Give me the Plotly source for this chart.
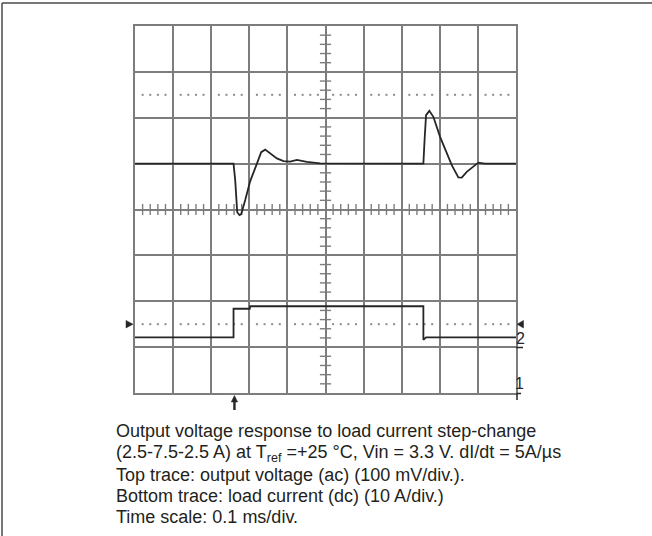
import plotly.graph_objects as go

# ---- oscilloscope data -------------------------------------------------
# time axis: 0.1 ms/div, 10 divisions
time_ms_v = [0.0, 0.2586, 0.263, 0.2683, 0.2743, 0.2788, 0.2893, 0.3024, 0.32,
             0.3312, 0.3417, 0.3548, 0.3724, 0.3897, 0.4073, 0.4249, 0.4511,
             0.486, 0.7569, 0.760, 0.7639, 0.7726, 0.7831, 0.8007, 0.8183,
             0.8314, 0.8487, 0.8576, 0.8707, 0.888, 0.9011, 0.9187, 1.0]
# output voltage deviation (ac coupled), mV
vout_mv = [0, 0, -36, -106, -112, -110, -79.5, -38, 0,
           25, 30.5, 22.9, 11.3, 5.4, 4.4, 8.1, 3.9,
           0.4, 0, 51, 105.7, 115, 102, 58.4, 22.2,
           -3.3, -30, -30.5, -17.9, -5.4, 2.2, 0, 0]

time_ms_i = [0.0, 0.2586, 0.2586, 0.3011, 0.3024, 0.7569, 0.7569, 0.760, 0.764, 1.0]
# load current, A
iload_a = [2.5, 2.5, 7.1, 7.1, 7.5, 7.5, 2.13, 2.37, 2.5, 2.5]

trigger_ms = 0.261

caption_lines = [
    "Output voltage response to load current step-change",
    "(2.5-7.5-2.5 A) at T<sub>ref</sub> =+25 °C, Vin = 3.3 V. dI/dt = 5A/µs",
    "Top trace: output voltage (ac) (100 mV/div.).",
    "Bottom trace: load current (dc) (10 A/div.)",
    "Time scale: 0.1 ms/div.",
]

# ---- screen / graticule settings ---------------------------------------
T_DIV = 0.1          # ms per division
V_DIV = 100          # mV per division
X_RANGE = [0, 1.0]
Y_RANGE = [-500, 300]
Y2_RANGE = [-6.41, 52.45]   # current channel position/gain on screen
CENTER_X = 0.5
CENTER_Y = -100
DOT_ROWS = [150, -350]
CH2_REF = -350

GRID = "#7d7d7d"
INK = "#262626"
TEXT = "#231f20"

# plot-area geometry in pixels (used to place marks outside the screen)
L, T, W, H = 135, 26, 381, 367


def px_x(px):
    return (px - L) / W


def px_y(py):
    return (T + H - py) / H


fig = go.Figure()

# centre-line minor ticks and dotted reference rows
minor_x = [round(i * T_DIV / 5, 4) for i in range(51) if i % 5]
minor_y = [Y_RANGE[0] + i * V_DIV / 5 for i in range(41) if i % 5]
fig.add_trace(go.Scatter(x=[CENTER_X] * len(minor_y), y=minor_y, mode="markers",
                         marker=dict(symbol="line-ew", size=8,
                                     line=dict(color=GRID, width=1.4)),
                         hoverinfo="skip", showlegend=False))
fig.add_trace(go.Scatter(x=minor_x, y=[CENTER_Y] * len(minor_x), mode="markers",
                         marker=dict(symbol="line-ns", size=8,
                                     line=dict(color=GRID, width=1.4)),
                         hoverinfo="skip", showlegend=False))
for row in DOT_ROWS:
    fig.add_trace(go.Scatter(x=minor_x, y=[row] * len(minor_x), mode="markers",
                             marker=dict(symbol="square", size=2, color="#8a8a8a"),
                             hoverinfo="skip", showlegend=False))

# traces
fig.add_trace(go.Scatter(x=time_ms_v, y=vout_mv, mode="lines",
                         line=dict(color=INK, width=1.8),
                         hoverinfo="skip", showlegend=False))
fig.add_trace(go.Scatter(x=time_ms_i, y=iload_a, mode="lines", yaxis="y2",
                         line=dict(color=INK, width=1.8),
                         hoverinfo="skip", showlegend=False))

axis_common = dict(showticklabels=False, ticks="", zeroline=False,
                   showgrid=True, gridcolor=GRID, gridwidth=1.5,
                   showline=True, linecolor=GRID, linewidth=1.6, mirror=True,
                   fixedrange=True)

fig.update_layout(
    width=652, height=536,
    margin=dict(l=L, r=652 - L - W, t=T, b=536 - T - H),
    paper_bgcolor="white", plot_bgcolor="white",
    xaxis=dict(range=X_RANGE, dtick=T_DIV, tick0=0, **axis_common),
    yaxis=dict(range=Y_RANGE, dtick=V_DIV, tick0=Y_RANGE[0], **axis_common),
    yaxis2=dict(range=Y2_RANGE, overlaying="y", visible=False, fixedrange=True),
    font=dict(family="Liberation Sans, Arial, sans-serif", color=TEXT),
    showlegend=False,
)

# channel-2 reference markers on both screen edges
half = 3.8 * V_DIV / 46
fig.add_shape(type="path", xref="paper", yref="y",
              path=f"M {px_x(126)} {CH2_REF + half} L {px_x(133)} {CH2_REF} "
                   f"L {px_x(126)} {CH2_REF - half} Z",
              fillcolor=INK, line=dict(color=INK, width=0.5))
fig.add_shape(type="path", xref="paper", yref="y",
              path=f"M {px_x(523.5)} {CH2_REF + half} L {px_x(517)} {CH2_REF} "
                   f"L {px_x(523.5)} {CH2_REF - half} Z",
              fillcolor=INK, line=dict(color=INK, width=0.5))

# channel labels
label_font = dict(size=16, color=INK,
                  family="Liberation Sans Narrow, Liberation Sans, Arial")
fig.add_annotation(text="2", xref="paper", yref="paper", x=px_x(520), y=px_y(338),
                   xanchor="center", yanchor="middle", showarrow=False,
                   font=label_font)
fig.add_annotation(text="1", xref="paper", yref="paper", x=px_x(519.5), y=px_y(383),
                   xanchor="center", yanchor="middle", showarrow=False,
                   font=label_font)
fig.add_shape(type="line", xref="paper", yref="paper", x0=px_x(516), x1=px_x(523),
              y0=px_y(347.5), y1=px_y(347.5), line=dict(color=INK, width=1.5))
fig.add_shape(type="path", xref="paper", yref="paper",
              path=f"M {px_x(517)} {px_y(400)} L {px_x(517)} {px_y(393.5)} "
                   f"L {px_x(521)} {px_y(393.5)}",
              line=dict(color=INK, width=1.5))

# trigger position arrow
hw = 3.2 * T_DIV / 38.1
fig.add_shape(type="line", xref="x", yref="paper", x0=trigger_ms, x1=trigger_ms,
              y0=px_y(401), y1=px_y(410), line=dict(color=INK, width=2.4))
fig.add_shape(type="path", xref="x", yref="paper",
              path=f"M {trigger_ms - hw} {px_y(402)} L {trigger_ms} {px_y(395.5)} "
                   f"L {trigger_ms + hw} {px_y(402)} Z",
              fillcolor=INK, line=dict(color=INK, width=0.5))

# frame of the figure panel (left and top rules)
fig.add_shape(type="line", xref="paper", yref="paper", x0=px_x(2), x1=px_x(660),
              y0=px_y(3), y1=px_y(3), line=dict(color="#4a4a4a", width=1.5))
fig.add_shape(type="line", xref="paper", yref="paper", x0=px_x(2), x1=px_x(2),
              y0=px_y(3), y1=px_y(545), line=dict(color="#4a4a4a", width=1.5))

# caption
caption_y_px = [431, 453, 475, 496, 517]
for line, ypx in zip(caption_lines, caption_y_px):
    fig.add_annotation(text=line, xref="paper", yref="paper",
                       x=px_x(114), y=px_y(ypx),
                       xanchor="left", yanchor="middle", showarrow=False,
                       align="left", font=dict(size=18, color=TEXT))

fig.write_html("out.html")
